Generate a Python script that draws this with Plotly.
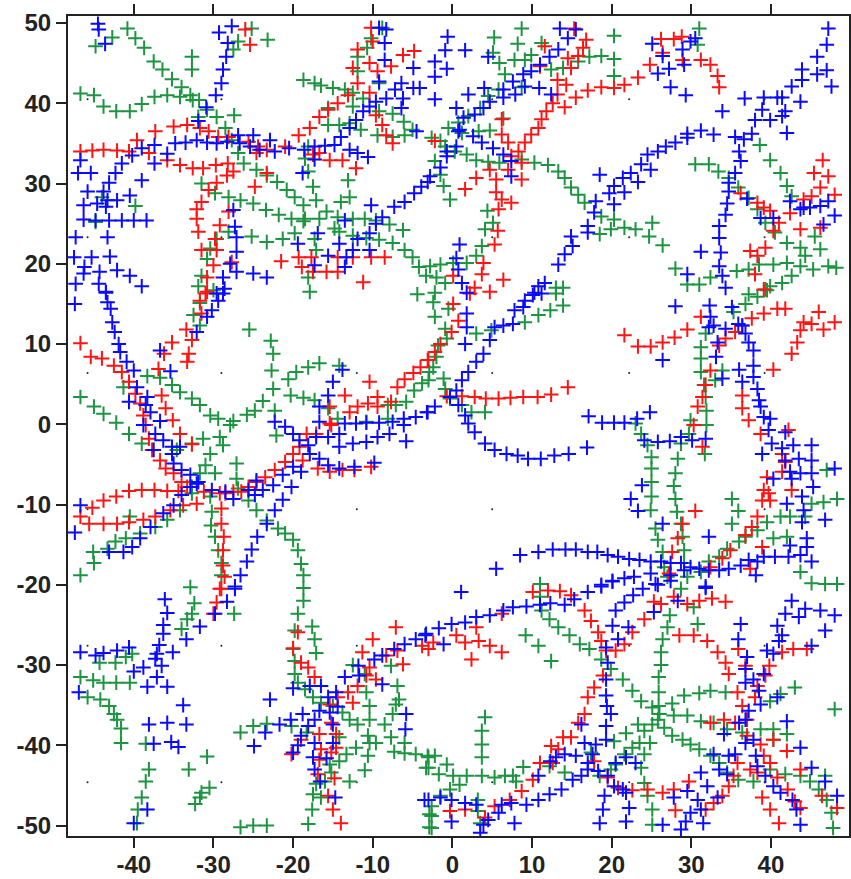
import plotly.graph_objects as go

green_points = [
(-40.8,49.3),(-39.8,48.1),(-38.7,46.9),(-37.5,45.2),(-36.4,44.2),(-35.2,43),(-34,42),(-32.9,41),(-31.8,40.4),(-30.8,39.2),(-29.6,38.3),(-28.5,36.9),(-27.7,35.4),(-26.9,33.8),(-26.2,32.5),(-24.6,31.7),(-23.3,31),(-22,30.2),(-20.8,29.2),(-19.8,28.3),(-18.7,27.3),(-18.5,25.6),
(-46.7,41.2),(-45,41),(-43.8,39.6),(-42.2,39),(-40.5,39),(-39,39.9),(-37.4,40.8),(-35.8,41),(-34.2,40.8),(-32.6,40.4),
(-44.8,47.1),(-42.7,48.2),(-32.7,45.8),(-32.7,44.2),(-31.9,38.3),(-27.4,38.5),(-27.5,46.7),(-26.9,47.7),(-25.2,49.3),(-23.2,47.9),
(-18.7,42.9),(-17.3,42.5),(-16.5,42.2),(-15,41.9),(-13.5,41.7),(-12.5,41.3),(-11.2,40.6),(-11.9,45.8),(-10.7,46.9),(-10.2,48.1),(-8.8,49.4),(-11.9,44),
(-9.2,42.5),(-15.6,39.4),(-15.6,37.3),(-14.2,37.3),(-12.9,37.5),(-11.5,36.7),(-12.5,39.6),(-9.2,39),(-7.5,38.7),(-6.1,37.7),(-5,36.7),(-6,36),(-7.5,35.8),(-9.4,36),
(-18.1,34.6),(-18.5,33.1),(-18.1,31.5),(-17.5,29.6),(-17.1,27.9),(-13.1,30.4),(-12.9,28.3),(-14,27.7),
(-31.5,30),(-29.8,28.8),(-28.1,28.3),(-26.6,27.9),(-25,27.5),(-23.4,26.7),(-21.8,26.1),(-20.2,25.6),(-18.7,25.3),(-16.7,25.6),(-15.8,26.5),(-14.4,25.8),(-12.5,25.6),(-11,25.6),(-9.6,25.4),(-7.9,24.9),(-6.2,24.2),
(-14.8,24.4),(-14.2,24),(-12.5,23.5),(-10.8,23.2),(-9.2,23),(-7.5,22.6),(-6,21.7),(-5,20.8),(-4.2,19.6),(-3.3,18.5),(-44.8,25.2),
(-25.2,23.4),(-23.3,22.7),(-21.3,23.1),(-19.8,23.8),(-17.3,23.1),(-17.1,21.7),(-18.1,18.3),(-17.9,16.5),
(-28.1,24),(-29.6,23.1),(-30.4,21.9),(-30.8,20.6),(-31.5,18.5),(-31.9,17.2),(-30,16.7),(-44,28.3),(-39.8,27.2),(-4.4,16.2),
(5.25,48.2),(8.7,49.3),(8.2,47.4),(11.2,47.5),(20.3,48.4),(20.3,45.5),(20.3,43.4),(18.7,45.9),(17.2,45.8),(15.8,45.2),(13.9,44.4),(12.4,44.2),(31,49.3),(30.8,47.3),
(5.1,46.3),(5.9,45),(6.6,43.6),(7.8,45.4),(9.1,45.4),(9.9,46),(8.7,42),(5.8,41.7),(4.5,40.9),(3.5,39.4),(2,38.4),(0.75,37.6),(-0.5,36.9),(1.2,36.3),(3.3,36.5),(4.7,36.6),(6.4,38.1),
(-2.6,35.7),(-1.5,35.3),(-0.9,34.6),(0.3,34),(1.8,33.6),(3,32.9),(4.5,32.7),(5.9,32.6),(8.7,33),(10.3,32.6),(12,32.3),(13.3,31.5),(14.1,30.7),(14.9,29.5),(15.8,28.6),(16.6,27.6),(18.7,25.9),(20.3,25.5),(21.6,24.5),(23,24.3),(25.1,25.1),(24.7,23.4),(26.4,22.3),(19.9,24.3),(18.5,23.7),
(-2.2,32.8),(-1.5,31.1),(-1.1,29.7),(-0.3,28),(4.4,26.6),(5.1,25.1),(4.1,24.3),(3.7,22.2),(3,21),(1.8,20.1),(0.1,20.1),(-1.5,19.9),(-2.8,19.7),(-2,18.3),(-0.9,17.6),(-2.2,16.4),
(13,17),(13.9,17),(28,19.4),(29.5,17.4),(31,17.4),
(30.5,32.4),(32.2,32.4),(33.4,31.5),(34.7,30.7),(35.9,29.5),(37.2,28.2),(38.3,26.8),(39.3,25.1),(40.5,23.9),(42,22.6),(43.7,22),(44.3,21),(43.7,19.7),(42.6,18.5),(41.4,17.6),(39.9,17.2),(42,20.1),(40.3,19.9),(38.5,19.9),(37.2,19.3),(35.7,19.1),(45.5,23.4),(46.2,21.8),(45.3,19.3),(47.2,19.7),(48.2,19.5),
(38.6,34.8),(39.9,32.9),(41.2,31.3),(42,29.7),(42.6,28.4),(32.4,18.3),(37.2,16.2),(39.3,16.8),
(-41.3,4.6),(-46.7,3.4),(-45,2.2),(-43.8,1.3),(-42.2,0.2),(-40.6,-1.2),(-39,-2.4),(-38.3,6),(-36.7,5.8),(-35.2,4.9),(-34.2,4),(-32.7,3.2),(-31.7,2.4),(-30.4,1.1),(-29.4,0.7),(-27.9,-0.1),(-27.5,0.4),(-25.8,1.2),(-24.8,1.7),(-23.8,2.9),(-22.5,4.4),(-22.7,6.7),(-22.5,8.8),(-22.8,10.4),(-25.5,11.8),(-20.6,5.6),(-19.6,6.5),(-18.1,7.1),(-16.7,7.6),(-14.2,7.3),(-20.3,3.6),(-18.7,3.3),(-17.3,3),(-15.6,2),(-14.4,0.7),(-22.3,1.7),(-22.1,-1.4),
(-10.8,0.3),(-8.1,0.7),(-8.1,2.4),(-7.1,2.4),(-5.8,2.8),(-4.8,4.2),(-3.8,5.1),(-2.9,6.5),
(-31.7,-6.1),(-31,-5.1),(-30.4,-3.7),(-29.8,-6.1),(-29.2,-1.6),(-28.8,-2.6),(-31.3,-1.8),(-32.7,-2.4),(-34.6,-3.2),
(-27.1,-4.9),(-27.1,-6.8),(-26.9,-8),(-30.4,-9),(-30.2,-10.9),(-30.3,-12.6),(-29.8,-14),(-29.4,-15.7),(-29,-17.3),(-29,-18.8),
(-25.6,-9.5),(-24.6,-10.7),(-23.3,-12),(-21.9,-13),(-21,-13.6),(-20,-14.4),(-19.4,-15.7),(-19,-17.4),(-18.7,-18.8),(-18.7,-20.4),
(-40.5,-11.5),(-46.7,-18.8),(-45.1,-15.9),(-45,-17.3),(-43.3,-15.5),(-42.3,-14.6),(-41,-14.2),(-39.2,-13.6),(-37.3,-12.8),(-35.8,-11.9),(-34.2,-10.7),(-32.7,-8.6),(-32.7,-7.8),
(-31.7,15.1),(-32.5,13.6),(-31.7,12.3),
(-2.4,15.2),(-2.2,13.4),(-0.5,14.4),(-0.9,11.9),(-0.7,10.7),(-1.8,9.8),(-2,8.4),(-2.4,7.1),(-3,5.5),(-1.1,5.7),(-0.9,4.4),(3,11.3),(4.9,11.7),(9.1,12.7),(10.8,13.6),(12.3,14.2),(13.9,14.8),(13,16.3),
(1.2,2.4),(2.4,1.5),(4.1,1.5),(-0.3,3.2),
(23,0.1),(23.7,-1.2),(24.5,-2.6),(25,-4.1),(25,-5.5),(25,-7.2),(25,-9),(24.9,-10.7),(25.5,-13),(25.8,-14.4),(26.4,-15.9),(26.6,-17.8),(27,-19),
(28.7,-2.4),(28.3,-4.3),(28,-6.1),(27.8,-7.7),(28,-9.3),(28.2,-10.9),(28.7,-12.4),(28.9,-14),(29.1,-15.7),(29.1,-17.3),(29.5,-19),
(35.1,-9.3),(35.9,-10.8),(35.1,-12.4),(41.2,-11.5),(39.5,-12.2),(38.3,-13.2),(36.8,-14),(36,-14.6),(34.5,-15.5),(33.5,-16.5),(32.2,-17.1),(31.2,-18.4),
(48.3,-9.3),(46.6,-9.7),(45.1,-9.9),(44.3,-11.5),(42.4,-11.5),(47,-5.7),(43.7,-18.4),(42,-14),(40.3,-14.2),(45.1,-19.8),(46.8,-19.9),(48.3,-19.9),
(31.8,11.3),(31.2,9.6),(31.2,8.2),(31.2,6.5),(33.9,6.7),(33,5.5),(31.6,4.9),(31.8,3.4),(31.9,1.7),(31.9,-0.1),(29.9,0.5),(29.7,-1.2),(31.7,-3.7),(35.3,14),(36.8,15),(38.3,15.9),(39.5,16.7),
(-32.9,-20.3),(-32.4,-22.3),(-32.7,-23.6),(-33.3,-24.3),(-34,-25.5),(-27.4,-23.6),
(-46.7,-31.5),(-45.1,-31.9),(-43.8,-32.2),(-42.2,-32.2),(-40.5,-32.2),(-44.3,-29.7),(-42.3,-29.7),(-41,-29),(-40.2,-28.6),
(-45.8,-34),(-44.2,-34.3),(-43.1,-35.1),(-42.5,-36.1),(-42.1,-36.8),(-41.6,-37.9),(-41.6,-39.7),(-38.5,-39.8),(-38.1,-43),(-38.5,-44.5),(-39,-46.5),(-39.5,-48),(-39.6,-49.7),
(-30.8,-41.4),(-33.1,-43),(-30.5,-45.3),(-31.5,-45.9),(-31.7,-46.5),(-32.3,-47.3),
(-26.6,-50.2),(-25,-50),(-23.3,-50),(-18.1,-49.8),(-17.6,-48),(-17.5,-46.1),(-16.5,-46.5),(-17.1,-44.8),(-12.9,-44.5),(-11,-43.1),
(-26.6,-38.4),(-25,-37.6),(-23.3,-37.3),(-20.2,-37.6),
(-19.4,-23.6),(-18.7,-22),(-19.8,-25.7),(-20,-28),(-19.8,-29.5),(-19.8,-31.1),(-19.4,-32.2),(-18.5,-33),(-17.5,-34),(-16.5,-34.7),(-15,-35.1),(-13.8,-35.9),(-12.9,-36.8),(-11.9,-37.4),(-17.6,-25.2),(-17.3,-26.8),(-17.1,-28.5),
(-12.5,-30),(-11,-31.1),(-10.8,-33.4),(-10.4,-35.1),(-10.4,-36.8),(-8.5,-37.4),(-7.5,-36.1),(-7.1,-34.9),(-6.7,-34.3),(-6.9,-32.6),(-7.7,-30.1),
(-18.3,-38.4),(-14.2,-39),(-14.2,-42),(-13.3,-41.1),(-12.1,-40.3),(-10.6,-38.8),(-10.4,-39.7),(-9.6,-39.7),(-10.6,-41.3),(-7.7,-39),(-6,-39.7),(-7.3,-40.8),(-6,-41),(-4.6,-41.1),(-3.1,-41.3),(-3.3,-42.8),(-2.9,-48.6),(-2.9,-50.2),
(-15.4,-42.4),(-15.2,-43.4),(-16,-44.5),
(11,-19.9),(11,-21.5),(11.2,-23.2),(12.2,-24.3),(13.3,-25.3),(14.7,-26.3),(16,-27.4),(17.2,-28),(18.7,-29.3),(19.9,-30.5),(21.4,-31.8),(22.6,-33.2),(23.7,-34.5),(25.1,-35.3),(26,-36.1),(26.6,-37.8),(27.6,-38.8),(28.9,-39.3),(29.9,-39.9),(31,-40.5),(32.4,-41.3),(33.5,-42.2),(34.5,-43.4),(35.9,-44.3),
(9.2,-26.3),(10.8,-27.6),(12.4,-29.5),
(27,-25.3),(30.8,-24.9),(26.4,-26.8),(26.2,-28.4),(26.2,-30),(25.9,-31.5),(25.9,-33.4),(25.9,-35.1),(25.8,-36.8),(25.1,-37.4),(24.1,-38.2),(23.3,-37.4),(24.8,-39.7),(23.5,-39.7),(22.6,-40.3),(21.6,-41.1),(20.5,-42.4),(19.9,-43),(21.8,-38.5),(20.3,-39.5),
(27.3,-23.8),(30.3,-22.8),(28.7,-20.5),
(27.6,-34.8),(29.1,-33.8),(31,-33.5),(32.4,-33.2),(34.3,-33.4),(39.9,-34.5),(41.2,-33.6),(43,-32.8),(48,-35.5),(38.7,-38),(40.3,-38),(42,-38.6),(40.3,-39.3),(27.8,-36.3),(29.5,-36.3),(31.2,-37),(32.8,-37.2),(34.5,-38),(36.4,-38.4),
(24.1,-41.1),(23.7,-42.8),(24.1,-44.7),(24.5,-46.3),(25.1,-48),(25.1,-49.9),
(39.9,-43),(41.8,-43.6),(43.7,-43.8),(44.9,-44.5),(46,-45.5),(46.8,-43.8),(47,-46.8),(47.6,-48.4),(47.8,-50.3),(37.8,-44.5),
(4.1,-36.5),(3.7,-38.2),(3.7,-39.9),(3.7,-41.5),
(-3,-41.5),(-2.2,-41.3),(-0.7,-42.4),(-1.7,-43.6),(0.1,-43.8),(1.8,-43.8),(3.7,-43.8),(5.3,-44),(6.6,-43.8),(7.6,-43.8),(8.9,-42.7),(-3,-42.8),(8,-44.5),(12.2,-42.6),(14.1,-43.4),
(0.9,-44.9),(-0.3,-45.5),(-1.5,-46.3),(-2.6,-47.6),(-2.6,-48.8),(-2.6,-50.3),
(3.2,-46.8),(3.2,-48.2),(3.5,-49.7),(17.4,-40.9),(18.5,-43.8),
]

red_points = [
(-46.7,34),(-45.2,34.1),(-43.8,34.2),(-42.1,34.1),(-40.6,34),(-39.6,35.4),(-38.1,33.8),(-37.3,36.5),(-35.8,32.9),(-35,37.1),(-33.3,37.3),(-31.7,36.9),(-30.6,36.5),(-29.4,35.8),(-28.1,35.8),(-25.6,35.2),(-24.4,34.6),(-23.3,34.2),(-21,34.6),(-19.3,36),(-17.9,36.9),(-16.7,38.3),(-15.6,39.2),(-14.4,40),(-13.1,41),(-11.9,42.5),(-10.4,41.3),(-9.6,38.5),(-8.8,37.3),(-8.3,36),(-7.5,35),
(-12.5,44.4),(-11.9,46.7),(-10.4,45),(-10,47.7),(-10.2,49.4),(-9.4,44),(-7.7,44.6),(-6.2,46),(-4.8,46.5),
(-34.2,32.3),(-32.6,31.9),(-31.3,31.9),(-29.7,32.3),(-28.2,32.5),(-27.5,31.5),(-28.3,31),(-29.6,30.1),(-30.6,29.2),(-31.5,27.7),(-32.1,26.8),(-32.1,25.6),(-31.9,24),(-24.6,33.8),(-23.3,31.3),(-24.8,29.6),(-28.1,26.5),(-29.2,24.8),(-29.8,23.1),(-29.6,21.7),(-31.5,21.7),(-30,19.8),(-30.8,18.3),(-30.8,16.5),(-27.7,20.2),
(-21.5,20.3),(-19.3,20.8),(-17.7,20.8),(-18.9,19.6),(-17.5,19),(-15.8,19),(-14.4,19),(-14.4,20.8),(-12.5,20.8),(-10.2,20.8),(-8.5,20.8),(-11.2,17.7),
(-17.5,33.6),(-16.7,33.8),(-15.4,32.9),(-13.8,32.9),(-12.1,31.9),(-26,49.2),(-25.4,47.3),
(15.3,49.3),(16.8,47.9),(16.4,46.9),(15.8,45.9),(14.9,44.4),(14.5,45.6),(11.6,47.1),(11,44.6),
(14.3,42.3),(13.2,42.9),(13.2,41.1),(12.6,40),(14.1,39.5),(11.8,39),(11.2,38),(10.8,36.9),(9.9,36.1),(9.1,35.1),(8.3,34),(7.4,33.4),(8.7,32.6),(8.7,30.5),(7,31.7),
(15.5,40.7),(17,41.6),(18.7,42),(20.3,41.9),(21.6,42.3),(23.3,43.2),(24.8,44.8),
(26.2,48),(27.8,48),(28.8,48.3),(26.4,46.3),(28.9,45.4),(31.2,45.4),(32.4,44.8),(33.3,43.4),(33.5,42),
(6.2,38),(6.2,36.1),(7,35.1),(-2.2,35.3),(3,30.7),(1.6,29.3),(4.7,31.7),(5.5,30.5),(5.5,28.9),(6.2,28),(7.4,27.6),(5.8,26.8),
(5.7,24.1),(5.3,22.4),(3.9,20.1),(3.7,18.7),(6.4,18),(2.8,17),(4.7,16.5),(0.1,18.5),
(46.5,32.9),(45.4,31.3),(47.2,30.9),(46.2,29.5),(48,28.6),(45.1,28.4),(44.1,28),(42.4,26.3),(41,25.1),(40.3,24.1),(43.7,24.3),(46.2,24.5),(39.1,27),(39.9,26.6),(38.3,27.6),(36.2,28.8),(39.3,22),(37.4,21.6),(38.3,21),(38,18.7),(39.1,16.8),
(-46.7,10.1),(-45.4,8.4),(-44,8.2),(-42.5,7.3),(-41.5,6.5),(-40.6,5.3),(-39.8,3.8),(-39.2,2.6),(-38.8,1.1),(-38.5,-0.1),(-38.1,-1.8),(-37.7,-3.2),(-36.7,-4.5),(-36,-5.5),(-35,-6.1),(-34,-7.2),
(-36.5,3.6),(-36,2),(-35.1,0.5),(-34.2,-1.2),(-32.7,-2.5),
(-35.2,10.2),(-36.2,8.8),(-36.9,6.9),(-33.4,11.8),(-32.7,10.5),(-33.1,8.8),(-33.3,7.8),(-31.5,13.8),(-31.7,15.4),(-31,16.3),
(-10.4,5.3),(-13.5,3.6),(-15.4,2.2),(-15.4,0.1),(-18.3,-1.2),(-17.1,-1.2),(-15.2,-0.1),(-19.2,-2.8),(-20,-3.7),(-21,-4.7),(-22.3,-5.7),(-23.5,-6.6),(-24.6,-7.2),(-25.6,-7.8),(-26.5,-8.4),(-27.5,-8.4),(-28.5,-8.6),
(-18.8,-4.5),(-16.9,-5.5),(-15.4,-5.9),(-13.8,-5.7),(-12.3,-5.7),(-10.2,-5.3),
(-12.9,1.5),(-11.9,2.2),(-10.6,2.6),(-9.4,3.4),(-7.7,2.8),(-9.4,2.2),(-6.9,4.6),(-6,5.6),(-4.9,6.4),(-4,7.1),(-3.1,8),
(-45.2,-10.4),(-43.8,-9.5),(-42.2,-9),(-40.6,-8.3),(-39,-8.2),(-37.4,-8.2),(-35.8,-8.3),(-34.4,-8.3),(-33.3,-7.8),(-46.7,-11.5),(-45.6,-12.4),(-43.8,-12.4),(-42.1,-12.4),(-40.6,-12.2),(-38.8,-11.9),(-37.3,-11.5),(-35.4,-10.7),(-33.8,-10.1),(-32.1,-9.9),(-31.2,-8.4),
(-29.2,-8.6),(-29,-10.5),(-29,-12.4),(-28.7,-14),(-28.8,-15.7),(-28.8,-17.6),(-28.6,-19),(-29,-20.5),
(21.6,11.1),(23.3,9.7),(24.9,9.7),(26.4,10.2),(27.9,10.8),(29.5,11.8),(31.2,13.4),(33.5,9.8),(34.3,10.7),(35.5,11.5),(36.4,12.3),(37.6,13.2),(39.1,13.8),(40.8,14.4),(41.8,14.4),(42.6,8.8),(43.3,10.2),(43.7,11.7),(44.1,12.7),(45.1,12.5),(46.6,11.8),(48,12.7),(46,14),(40.3,6.8),
(32.4,6.7),(31.8,4.9),(31.4,3.4),(30.8,2.2),(30.3,-0.1),(31.4,-2.8),
(36.4,3.6),(36.4,2),(37.2,0.5),(38.7,-1.2),(42.2,-0.7),
(41.4,-3.7),(41.8,-4.7),(41.4,-5.9),(39.5,-6.6),(39.1,-8.2),(39.7,-8.6),(39.9,-9.5),(38.9,-9.5),(42.6,-8.2),(38.3,-11.5),(37.6,-12.8),(36.8,-13.8),(38.9,-15.3),(37.4,-18),(30.5,-10.8),(28.9,-12.4),(28.3,-14.2),(27.6,-15.9),(27.2,-18.6),(33.9,-16.7),(32.4,-17.8),(34.9,-15.7),
(2.2,16.3),(0.1,15),(0.75,12.9),(-0.1,11.5),(-1.5,10),(-2.2,9),(-3,8),(14.5,4.6),(12.4,3.7),(10.7,3.4),(8.9,3.4),(7.3,3.3),(5.8,3.2),(4.2,3.2),(2.8,3.4),(1.2,3.5),(-0.7,3.5),
(-30,-23.6),(-29.6,-22.2),(-29.2,-20.5),(-19.4,-25.9),(-20,-27.9),(-19,-29.7),(-18.1,-30.3),(-17.3,-31.5),(-7.1,-25.3),(-10,-26.8),(-11.3,-28.4),(-13.1,-33.4),(-12.5,-34.7),(-11.9,-32.6),(-10.8,-31.3),(-9.6,-31.8),(-10.4,-30.3),(-8.3,-28.8),(-6.2,-29.9),(-6.9,-28.2),(-3.8,-27.6),
(-14.4,-34),(-15.4,-34.9),(-15.2,-37.2),(-14.6,-38.6),(-16.7,-38.6),(-19,-39.3),(-20.2,-41.1),(-16.5,-40.5),(-14.6,-40.3),(-16.7,-41.8),(-15.2,-40.9),(-16.9,-43.6),(-14.8,-44.1),(-15,-48),(-14,-49.7),(-15.6,-46.3),
(10.1,-20.9),(12,-20.7),(13.5,-20.8),(14.9,-21.3),(16.6,-23.2),(17.4,-24.5),(18.3,-25.9),(18.7,-27),(19.3,-28.2),(20.5,-28.2),(21.6,-27.4),(22.6,-25.9),(24.1,-24.3),(25.3,-22.1),(26.2,-22.4),(27.8,-21.5),(29.5,-22.4),(31,-22),(32.6,-21.7),(34.3,-22.1),
(18.9,-31.3),(17.8,-32.8),(17,-34),(16.6,-36.1),(15.8,-37.2),(14.9,-39),(13.9,-39),(13.3,-40.5),(12.4,-40.1),(11,-42.2),(12.6,-42.2),(10.1,-44.3),(8.7,-45.7),(7.2,-46.8),(5.3,-47.6),(4.1,-49),(1.6,-48),(-0.3,-48.2),
(17.8,-42),(19.5,-44),(20.8,-45.3),(22.6,-45.6),(24.5,-45.5),(26.4,-45.9),(27.8,-45.5),(29.7,-44.5),(28,-48.1),(31.8,-48),(32.8,-47.2),(33.9,-46.3),(34.7,-45.1),(35.3,-43.8),(35.8,-42.2),
(0.5,-26.3),(1.6,-27.2),(3.3,-27),(3,-25.3),(4.7,-27.6),(6.2,-28.4),(2.4,-29.3),(-3,-28),(-2.4,-27.2),(6.2,-23.6),
(28.5,-26.3),(30.3,-26.3),(32,-27),(33.3,-28.4),(34.3,-29.7),(34.7,-31.1),(35.8,-33.4),(36.4,-35.1),(37,-36.8),(35.5,-37.2),(34.1,-36.8),(32.4,-37.2),
(35.9,-28),(36.8,-30.1),(39.3,-31.3),(39.8,-30.1),(41.4,-28.4),(42.8,-28),(44.5,-28),(38.3,-32.6),(38,-34),
(38.7,-39.9),(39.1,-41.3),(39.9,-42.2),(37.4,-43),(38.3,-43.4),(38.9,-46.5),(39.9,-48),(41,-49.7),(40.3,-39.3),(42,-40.7),(43.7,-43),(40.8,-44),(42.1,-45.5),(43,-47),(43.7,-47.8),(46.4,-46.3),(48.3,-47.8),(37,-38.8),
]

blue_points = [
(-44.5,49.9),(-44.4,49.2),(-43.6,47.4),(-29.3,48.8),(-27.7,49.6),(-28.2,47.5),(-28.4,45.8),(-28.8,44.2),(-29,42.5),(-29.7,41),(-30.9,39.5),(-31.9,37.8),
(-46.7,32.9),(-47,31.3),(-45.4,31.3),(-45.8,29),(-46.3,27.3),(-44.6,27.5),(-43.3,27.9),(-42.1,27.9),(-40.5,28.5),(-46.3,25.5),(-44.8,25.4),(-43.1,25.4),(-41.5,25.4),(-40,25.4),(-38.4,25.4),(-43.5,27.1),(-39,30.4),(-43.8,29),(-43.1,30.1),(-42.3,31.3),(-41.5,32.5),(-40.2,33.5),(-39,34.4),(-37.4,34.8),(-37.4,32.5),(-35.8,33.7),
(-34.8,35),(-33.5,35.1),(-32.1,35.4),(-30.8,35.1),(-29.6,35),(-28.3,35.2),(-26.9,36),(-25,36),(-26.7,35),(-25.4,34.6),(-24.2,34.2),(-22.9,35.4),(-22.3,34),(-20.5,34.4),(-18.6,34.2),(-17.3,34.6),(-16,34.7),(-17.3,33),(-18.8,31.3),(-14.8,34.8),(-14,35.8),(-12.9,36.9),(-12.1,37.9),(-11.2,39),(-10.4,39.6),(-9.6,40.2),(-8.3,40.6),(-7.2,41.7),(-6.4,42.5),(-6.2,40.6),(-6.4,39.4),(-4.9,41.9),(-4.1,41.9),(-4.9,44.4),(-4.5,36.5),
(-12.9,34.2),(-11.9,33.8),(-10.6,33.3),(-9.2,49.4),(-8.3,49.2),(-8.5,47.5),(-8.5,45.4),(-9.2,42.7),
(-47.3,23.3),(-43.3,23.3),(-47.5,20.8),(-45.3,20.8),(-43,20.9),(-46.2,19.6),(-44.3,19),(-42.1,19.2),(-40.5,18.5),(-39,17.2),(-47.3,17.5),(-46.3,18.8),(-44.4,17.5),(-43.5,16.4),
(-27.5,26.7),(-27.3,24.6),(-27.1,23.3),(-27.1,21.5),(-27.9,20),(-27.1,19),(-25,18.8),(-23.3,18.3),(-28.8,18.3),(-28.6,16.9),(-29.6,16.3),
(-10.2,27.3),(-13.5,25.4),(-9.6,25),(-10.4,23.8),(-10.4,21.7),(-11.9,23.1),(-12.5,21.7),(-13.3,20.8),(-13.5,19.6),(-14.2,22.5),(-15.6,21),(-16.9,23.8),(-19.4,22.5),(-17.3,19.8),(-8.8,25.8),(-7.3,27.1),(-6,27.7),(-4.8,28.8),(-3.9,29.6),(-3.1,30.2),
(-2.8,30.9),(-1.5,32),(-0.7,33.4),(0.5,34.6),(0.9,36.7),(1.4,38.2),(2.8,38.6),(3.9,39.4),(4.7,40.2),(6.4,41.7),(7.6,42.7),(8.9,43.6),(9.9,44),(11,44.8),(12.2,45.8),(13.3,46.7),(14.5,48.1),(15.5,49.2),(13.5,49.3),
(-0.6,48.3),(-0.9,46.6),(1.6,46.6),(-2.2,45.2),(-0.7,44.3),(-2.2,43.3),(-2.2,40.5),(2,41.1),(4,41.9),(4.5,45.8),(6.4,40.7),(7.9,41.1),(10.9,41.9),(12.4,41.1),(9.1,42.1),(0.5,39.4),(0.75,36.5),(2.6,35.9),(3.7,35.1),(5.1,34.4),(6.4,33.6),(7.4,32.8),(7.4,30.9),(-0.7,34),
(17,24.7),(17.8,26.4),(18,27.8),(18.5,31.1),(20.3,27.4),(21.6,28.9),(19.7,28.8),(20.3,29.7),(21.4,30.7),(22.4,31.3),(23.3,30.2),(23.7,32.4),(24.9,31.7),(24.5,33.6),(25.8,34),(26.8,34.6),(28,35.1),(29.5,35.7),(29.5,36.2),(31.2,36.6),(32.8,36.1),(33.9,39),
(17,23.9),(14.9,23.4),(15.1,22.2),(14.1,21.2),(13.3,19.9),(11.6,17.6),(10.8,17.2),(10.3,16.4),(0.9,22.4),(0.5,20.7),(0.75,19.3),(1.2,17.6),(1.8,16.4),
(25.1,47.4),(26.4,45.9),(27.2,44.3),(25.8,43.7),(28.9,46.7),(29.9,47.7),(30.5,48.1),(29.1,44.8),(27.4,42),(29.3,41),
(47.2,49.3),(47,47.3),(45.8,45.8),(43.9,44.2),(43.9,42.9),(42.6,42.1),(45.8,43.6),(47,44.1),(47.6,42.1),(40.8,40.7),(39.1,40.7),(38.9,39.2),(41.4,40.7),(43.7,40.2),(41.8,39),(41.4,38.4),(42,36.3),(39.9,37.9),(38,37.9),(37.6,36.2),(36.7,40.6),(35.5,35.8),(36.6,35.5),(36,34),(36.2,32.8),(35.5,31.3),(34.7,30.1),(34.7,29),(34.5,27.5),(34.3,26.1),(33.5,24.7),(33.5,23.2),(33.7,21.4),(31.2,21.5),(33.5,19.7),(33.9,18.5),(29.5,18.7),(34.3,17),
(37,28.1),(38.7,25.7),(40.3,25.7),(42.4,27.8),(43.7,26.8),(44.9,27),(46.2,27.2),(47.2,27.8),(48,26),(46.6,24.9),(44.1,27),
(-47.4,15),(-43.5,16.5),(-43.3,15.2),(-42.9,14.4),(-42.7,12.7),(-42.4,11.5),(-41.9,10),(-41.7,9),(-40.9,7.8),(-40,6.7),(-39.6,4.6),(-40.6,2.8),(-38.3,3.4),(-38.5,2.4),(-37.9,1.5),(-36.7,0.4),(-38.8,-0.1),(-37.3,-1.2),(-36.3,-2),(-35.2,-2.8),(-34.2,-2.8),(-35.2,-3.7),(-37.5,-3.2),(-35,-4.9),(-34,-5.7),(-32.9,-6.3),(-31.9,-7.2),(-30.2,-8.2),(-28.5,-8.4),(-27.5,-9.3),(-25.6,-8.2),(-24.8,-8.8),(-24.6,-7),(-23.8,-8.2),(-22.5,-7.6),(-21.3,-9.4),(-20.2,-7.8),(-21.3,-6.3),(-20,-5.3),(-19,-5.9),(-17.9,-3.7),(-18.1,-2.6),(-17.1,-1.6),(-15.6,-1.6),(-14.2,-1.2),(-14.2,-2.8),(-12.5,-2.4),(-10.8,-2.2),(-9.4,-1.6),(-7.9,-1.2),(-6.1,-0.1),(-5.8,-2.1),(-13.5,0.1),(-12.1,0.1),(-10.8,0.2),(-9.2,0.2),(-7.5,0.3),(-6.1,0.7),(-4.6,0.9),(-3.1,1.5),
(-22.3,0.3),(-21,-0.3),(-20,-1.2),(-19.2,-2),(-16.7,2.2),(-16.7,0.3),(-15.6,3.6),(-15,5.3),(-13.8,6.8),
(-16.7,-4.3),(-15.6,-5.1),(-14.2,-5.5),(-12.3,-5.3),(-9.8,-4.8),
(-36.7,9.2),(-35.4,6.6),(-32.1,11.5),(-30.8,13.4),(-30.2,14.2),(-29.4,15.4),(-28.8,16.3),
(-46.7,-10.1),(-47.4,-13.5),(-43.1,-15.9),(-41.3,-15.9),(-40.2,-15.3),(-39.2,-14.2),(-37.9,-12.8),(-36.3,-11.1),(-35,-10.1),(-34,-8.8),(-32.9,-7.8),
(-32.1,-7.4),(-23.3,-12.4),(-22.3,-10.7),(-24.5,-14),(-25.2,-15.6),(-25.8,-17.1),(-26.6,-18.8),(-27.3,-20.2),
(1.8,13.8),(1.8,12.1),(1.6,10),(5.3,12.1),(4.7,10.5),(3.9,8.8),(3,7.8),(2,6.5),(1.2,5.5),(0.5,4.2),(-0.3,3.4),(0.75,2.4),(1.6,1.1),(2,0.1),(2.8,-1),(4.1,-2.4),(5.3,-3.2),(6.8,-3.7),(8.2,-3.9),(9.5,-4.3),(11.1,-4.3),(12.8,-3.9),(14.6,-3.7),(16.9,-2.9),(-2.2,2.2),(-3.2,1.5),(6.4,12.3),(7.6,12.5),(8.9,14.6),(7.8,14.2),(9.1,15.4),(10.1,16.1),(11.2,16.3),(28,14.7),(26.4,8),
(17.1,1),(18.8,0.2),(20.3,0.2),(21.6,0.2),(23.2,0.7),(24.8,1.5),(24.1,-2),(25.8,-2.2),(27.3,-2.1),(28.7,-1.6),(30.1,-2),(31.8,-1.8),
(32.3,14.8),(32.4,13.4),(32.8,12.3),(33.3,10.2),(33.1,8.4),(33.9,5.7),(32.2,12.1),(34.3,11.9),(35.1,14.6),(35.9,12.5),(36.4,12.3),(36.8,11.3),(37.2,10.2),(37.8,9.2),(37.8,7.3),(36,6.8),(37.8,5.9),(36.4,5.3),(38.3,4.4),(38.5,3),(38.7,2.2),(39.1,0.9),(39.9,0.7),(39.7,-0.7),(40.1,-2.4),(41.4,-3),(42.8,-2.6),(41.8,-1),(38.9,-3.7),(41.8,-4.5),(43.5,-4.3),(45.1,-2.6),(45.1,-4.5),(42.4,-5.9),(43.7,-6.1),(45.1,-6.1),(45.3,-7.8),(48,-5.5),(42.6,-6.8),(40.3,-6.8),(43.9,-9),(42,-9.9),(44.1,-10.7),(43.9,-12.2),(46.8,-11.9),(44.5,-14.2),(44.5,-15.3),(45.1,-17.1),(43.7,-16.3),(42.4,-15.1),(42.2,-16.5),(40.5,-16.5),(39.1,-16.5),(38.3,-17.1),(38.1,-18.8),(37.2,-16.9),(36.2,-17.6),(34.7,-18),(33.5,-18.2),(32.2,-18.2),(31,-18),(29.9,-17.8),(28.7,-17.3),(27.4,-17.3),(26.2,-17.1),(24.9,-17.1),(23.5,-16.9),(22.2,-16.8),(20.8,-16.5),(19.5,-16.3),(18.2,-15.9),(17,-15.9),(15.5,-15.6),(14.2,-15.6),(12.6,-15.6),(10.8,-15.9),(8.5,-16.3),(5.5,-18),
(23.8,-7.6),(22.4,-9.3),(23.3,-10.8),(26.4,-12.4),(32.2,-14),
(18.7,-20),(20.1,-19.6),(21.6,-19.2),(22.8,-19),(24.9,-18.6),(27.4,-18.8),(25.8,-20),(31.8,-20.2),(29.1,-18.2),
(-36.1,-21.8),(-35.8,-23.5),(-36.3,-25),(-36.3,-26.1),(-36.8,-27.5),(-37.1,-28.6),(-36.5,-30.1),(-37.3,-29.2),(-38.8,-30.3),(-40,-30.8),(-35.1,-28.4),(-33.4,-26.8),(-31.7,-25.2),(-29.8,-23.6),(-28.3,-22.1),(-27.3,-20.5),
(-46.7,-28.4),(-44.8,-28.8),(-43.8,-28.5),(-42.1,-28.2),(-40.6,-27.8),(-46.9,-33.4),(-37.1,-31.5),(-38.3,-32.7),(-35.8,-32.7),
(-33.8,-35),(-38.1,-37.4),(-35.8,-37.2),(-33.4,-37.4),(-37.5,-39.8),(-35.3,-39.6),(-34.4,-40.2),(-38.3,-48),(-40,-49.7),
(-22.9,-34.3),(-21.7,-37.4),(-23.5,-38.4),(-24.9,-40.1),(-20.3,-36.8),(-20,-32.9),(-18.8,-36.1),(-17.9,-32.6),(-16.5,-32.6),(-15.6,-34),(-14.6,-33.4),(-13.5,-31.5),(-16.7,-35.7),(-15.4,-35.9),(-14.4,-35.2),(-17.3,-36.8),(-18.1,-37.6),(-19,-38.8),(-19.4,-40),(-20,-40.9),(-17.3,-39.7),(-15,-39.7),(-17.5,-41.5),(-15.8,-41.6),(-17.3,-43),(-16.6,-44.5),(-15,-37.4),(-14.7,-46.5),
(-11.8,-30.1),(-11.7,-31.3),(-8.8,-32.4),(-9.8,-29.3),(-8.8,-28.8),(-7.3,-28),(-6,-27.4),(-4.6,-26.8),(-3.3,-26.1),(-5.8,-36.1),(-5.9,-38),(-3.5,-46.8),
(1.1,-20.9),(-3.4,-26.3),(-1.7,-25.4),(-0.1,-24.9),(1.6,-24.7),(3,-24),(4.7,-23.8),(6.4,-23.2),(7.6,-22.8),(9.3,-22.7),(11,-22.5),(12.3,-22.3),(14.1,-22.5),(15.3,-21.8),(17,-20.9),(18.7,-20.2),(-1.1,-27.4),
(20.1,-19.5),(20.5,-23.2),(21.6,-22.2),(22.7,-21.3),(23.9,-20.5),(25.5,-19.9),(27.4,-19.5),(28.3,-22),(25.3,-23.4),(31.8,-20.4),
(20.1,-25.1),(22.1,-25.3),(20.8,-26.8),(19.3,-27.8),(19.5,-29.7),(19.3,-31.8),(19.3,-33.8),(19.4,-35.1),(19.9,-36.1),(19.3,-37.6),(19.3,-39.3),(18,-39.9),(17,-42.2),(16.2,-37.4),(16.6,-39.7),(15.5,-41.3),(14.1,-41.1),(13,-41.5),(12.3,-42),(10.8,-43.8),(13.7,-45.5),(12.2,-46.1),(10.8,-46.8),(9.3,-47.4),(7.4,-47.2),(6.2,-47.4),(5.8,-48.4),(4.5,-49.3),(3.9,-49.9),(3.5,-50.9),(7.8,-49.7),(3,-47.4),(1.6,-47.2),(-0.1,-46.8),(-1.5,-46.5),(-3,-46.8),(-0.1,-49.5),
(15.1,-44.3),(16.2,-43.8),(17,-43),(17.6,-41.1),(18.3,-43.2),(19.5,-43.8),(20.3,-45.1),(21.4,-45.5),(21.8,-45.9),(22.2,-47.8),(21.8,-49.5),(19.1,-46.3),(18.9,-48),(18.5,-49.7),(20.5,-42.2),(21.8,-41.5),(23,-42.2),
(36.2,-24.9),(35.9,-26.8),(37,-29),(36.8,-30.5),(36.8,-32.2),(38.5,-33.2),(38.7,-34.9),(40.8,-34),(39.5,-28.2),(40.3,-28.6),(41,-27),(41.4,-26.3),(40.8,-25.1),(41.8,-23.6),(42.6,-22),(43.5,-24),(44.3,-23),(46.2,-23.2),(48,-23.8),(46.8,-25.7),(45.1,-27.6),(39.1,-31.1),(37.8,-31.8),
(42,-37),(43.7,-40.3),(36.8,-36.8),(36,-37.2),(37.2,-35.7),(36.8,-39.7),(37.8,-39.3),(38.1,-41.3),(38.3,-42.6),(39.3,-43.8),(40.3,-45.1),(41.2,-45.9),(42.7,-46.8),(43.2,-48),(43.7,-49.9),(45.1,-42.8),(46.8,-44.5),(48.3,-46.3),
(34.1,-38.6),(35.5,-41.1),(34.7,-41.3),(33.5,-43),(34.5,-43.6),(31.2,-43.4),(32.8,-41.1),(32,-45.1),(30.8,-46.8),(29.5,-45.7),(27.8,-46.5),(33.3,-46.5),(31.2,-48),(29.9,-48.4),(29.3,-49.5),(28.7,-50.5),(31.5,-49.7),(26.4,-49.9),
]

speck_x = [-45.8, -29, -12, 5, 22.2, 39.2]
speck_y = [40.5, 23.3, 6.4, -10.6, -27.6, -44.6]

x_ticks = [-40, -30, -20, -10, 0, 10, 20, 30, 40]
y_ticks = [50, 40, 30, 20, 10, 0, -10, -20, -30, -40, -50]

fig = go.Figure()
fig.add_trace(go.Scatter(
    x=[a for a in speck_x for _ in speck_y], y=[b for _ in speck_x for b in speck_y],
    mode="markers", marker=dict(symbol="circle", size=2, color="#222222"), hoverinfo="skip"))

for pts, col in ((green_points, "#1c9440"), (red_points, "#ff1414"), (blue_points, "#0a0aff")):
    fig.add_trace(go.Scatter(
        x=[p[0] for p in pts], y=[p[1] for p in pts], mode="markers",
        marker=dict(symbol="cross-thin", size=10.5, line=dict(color=col, width=2))))

axis = dict(showgrid=False, zeroline=False, showline=True, linecolor="#222222", linewidth=2,
            mirror="ticks", ticks="outside", ticklen=10, tickwidth=2, tickcolor="#222222",
            automargin=False,
            tickfont=dict(family="Liberation Sans", size=24, color="#222222", weight="bold"))
fig.update_xaxes(range=[-48.26, 49.8], tickvals=x_ticks, ticktext=[str(v) for v in x_ticks],
                 ticklabelstandoff=-4, **axis)
fig.update_yaxes(range=[-51.3, 50.87], tickvals=y_ticks, ticktext=[str(v) for v in y_ticks], **axis)
fig.update_layout(width=851, height=879, showlegend=False, plot_bgcolor="white", paper_bgcolor="white",
                  margin=dict(l=68, r=2, t=16, b=43, pad=0))
fig.write_html("out.html", config=dict(displayModeBar=False),
               post_script="document.documentElement.style.overflow='hidden';document.body.style.margin='0';")
